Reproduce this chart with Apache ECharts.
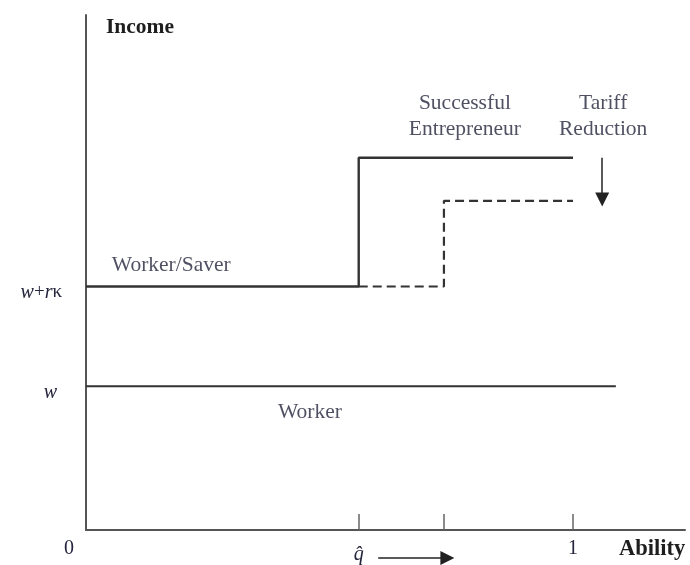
<!DOCTYPE html>
<html>
<head>
<meta charset="utf-8">
<script src="https://cdn.jsdelivr.net/npm/echarts@6/dist/echarts.min.js"></script>
<style>
  html, body { margin: 0; padding: 0; background: #fff; }
  #chart { width: 690px; height: 565px; }
</style>
</head>
<body>
<div id="chart"></div>
<script>
  // ability levels
  var qHat = 0.56;      // old threshold
  var qNew = 0.735;     // threshold after tariff reduction
  var qMax = 1;
  var workerEnd = 1.088;

  // income levels
  var w = 1;
  var wrk = 1.694;      // w + r*kappa
  var entHigh = 2.59;
  var entLow = 2.29;

  var entrepreneurOld = [[0, wrk], [qHat, wrk], [qHat, entHigh], [qMax, entHigh]];
  var entrepreneurNew = [[qHat, wrk], [qNew, wrk], [qNew, entLow], [qMax, entLow]];
  var workerLine = [[0, w], [workerEnd, w]];

  var xTicks = [qHat, qNew, qMax];
  var xTickLabels = [qHat, qMax];
  var yTickLabels = [w, wrk];

  // arrows: tariff reduction shifts down, threshold shifts right
  var arrowDown = [[1.06, entHigh], [1.06, entLow + 0.01]];
  var arrowRight = [[0.6, -0.194], [0.742, -0.194]];

  var notes = [
    { name: 'Successful\nEntrepreneur', value: [0.778, 2.875], align: 'center' },
    { name: 'Tariff\nReduction', value: [1.062, 2.875], align: 'center' },
    { name: 'Worker/Saver', value: [0.053, 1.84], align: 'left' },
    { name: 'Worker', value: [0.46, 0.82], align: 'center' }
  ];

  var serif = "'Liberation Serif', 'DejaVu Serif', serif";
  var ink = '#24243c';
  var lineCol = '#333';

  var myChart = echarts.init(document.getElementById('chart'));

  var option = {
    animation: false,
    backgroundColor: '#fff',
    grid: { left: 86, right: 5, top: 15, bottom: 34, containLabel: false },
    xAxis: {
      type: 'value',
      min: 0,
      max: 1.23,
      splitLine: { show: false },
      axisLine: { show: true, lineStyle: { color: '#555', width: 2 } },
      axisTick: {
        show: true,
        inside: true,
        length: 16,
        customValues: xTicks,
        lineStyle: { color: '#666', width: 1.5 }
      },
      axisLabel: {
        customValues: xTickLabels,
        margin: 9,
        fontFamily: serif,
        fontSize: 20,
        color: ink,
        formatter: function (v) {
          if (v === qHat) return '{q|q\u0302}';
          return '1';
        },
        rich: {
          q: { fontFamily: serif, fontSize: 20, fontStyle: 'italic', color: ink, padding: [6, 0, 0, 0] }
        }
      }
    },
    yAxis: {
      type: 'value',
      min: 0,
      max: 3.583,
      splitLine: { show: false },
      axisLine: { show: true, lineStyle: { color: '#555', width: 2 } },
      axisTick: { show: false },
      axisLabel: {
        customValues: yTickLabels,
        margin: 24,
        fontFamily: serif,
        fontSize: 20,
        color: ink,
        formatter: function (v) {
          if (v === w) return '{i|w}{p| }';
          return '{i|w}{n|+}{i|r}{n|\u03ba}';
        },
        rich: {
          i: { fontFamily: serif, fontSize: 20, fontStyle: 'italic', color: ink, padding: [12, 0, 0, 0] },
          n: { fontFamily: serif, fontSize: 19, color: ink, padding: [12, 0, 0, 0] },
          p: { fontSize: 20, width: 5, padding: [12, 0, 0, 0] }
        }
      }
    },
    graphic: [
      { type: 'text', left: 106, top: 16, style: { text: 'Income', font: 'bold 21.5px ' + serif, fill: '#1e1e1e' } },
      { type: 'text', left: 619, top: 538, style: { text: 'Ability', font: 'bold 22.5px ' + serif, fill: '#1e1e1e' } },
      { type: 'text', left: 64, top: 539, style: { text: '0', font: '20px ' + serif, fill: ink } }
    ],
    series: [
      {
        name: 'worker',
        type: 'line',
        data: workerLine,
        symbol: 'none',
        lineStyle: { color: lineCol, width: 2.2 }
      },
      {
        name: 'before',
        type: 'line',
        data: entrepreneurOld,
        symbol: 'none',
        lineStyle: { color: lineCol, width: 2.4 }
      },
      {
        name: 'after',
        type: 'line',
        data: entrepreneurNew,
        symbol: 'none',
        lineStyle: { color: lineCol, width: 2.2, type: [9, 5] }
      },
      {
        name: 'arrows',
        type: 'lines',
        coordinateSystem: 'cartesian2d',
        clip: false,
        symbol: ['none', 'triangle'],
        symbolSize: [11, 14],
        lineStyle: { color: '#222', width: 1.5, opacity: 1 },
        data: [
          { coords: arrowDown },
          { coords: arrowRight }
        ]
      },
      {
        name: 'notes',
        type: 'scatter',
        symbolSize: 0,
        silent: true,
        data: notes.map(function (n) {
          return {
            name: n.name,
            value: n.value,
            label: { align: n.align }
          };
        }),
        label: {
          show: true,
          position: 'inside',
          formatter: '{b}',
          fontFamily: serif,
          fontSize: 21.5,
          lineHeight: 26,
          color: ink
        }
      }
    ]
  };

  myChart.setOption(option);
</script>
</body>
</html>
